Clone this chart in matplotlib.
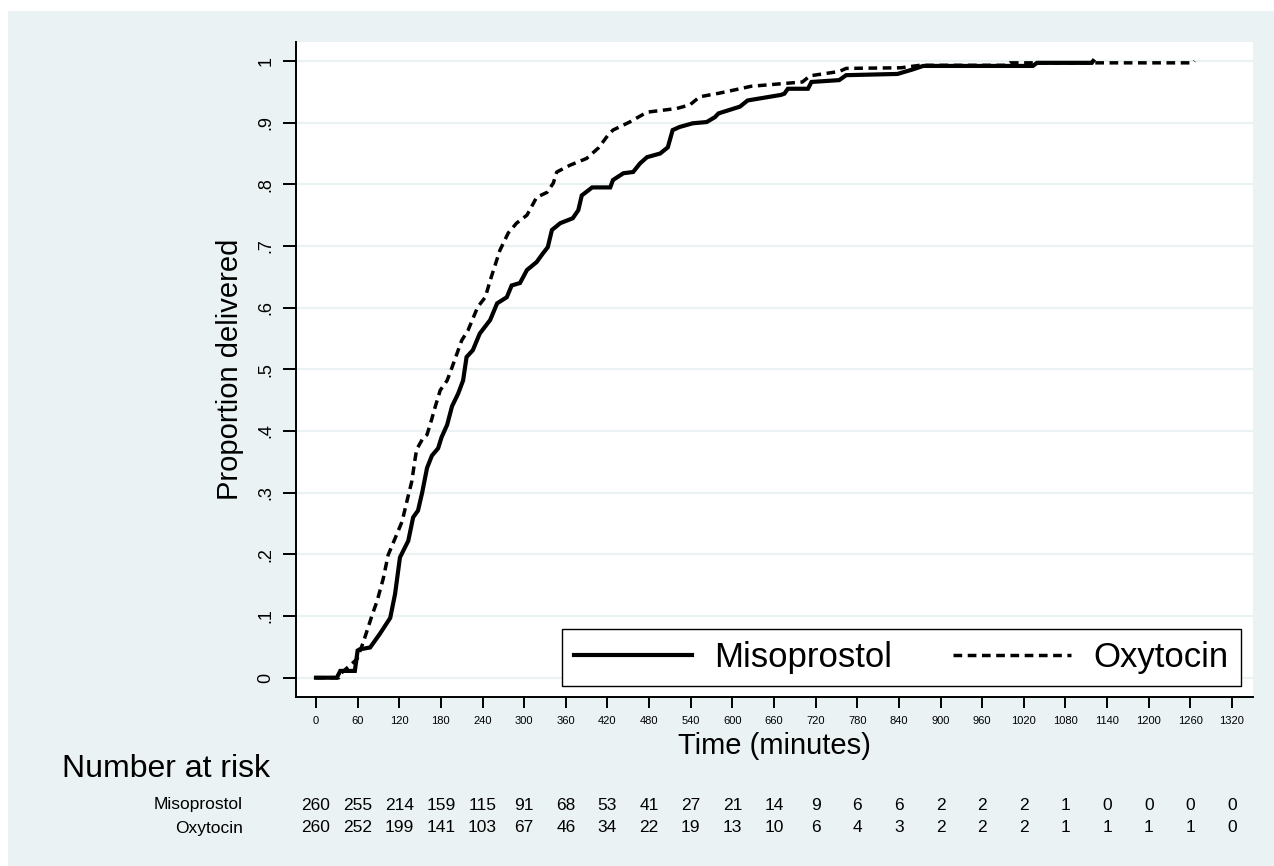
import numpy as np
import matplotlib.pyplot as plt
from matplotlib.patches import Rectangle
import matplotlib.transforms as mtransforms

plt.rcParams['font.family'] = ['Liberation Sans', 'DejaVu Sans']

# Kaplan-Meier failure estimates (time in minutes, proportion delivered)
miso_t = [0, 30, 35, 56, 60, 63, 78, 92, 107, 114, 121, 133, 140, 147, 153, 160, 167, 176, 181,
          189, 196, 205, 212, 217, 226, 236, 251, 261, 275, 282, 294, 304, 318, 327, 334, 340,
          352, 370, 378, 383, 398, 424, 428, 443, 457, 467, 477, 496, 507, 514, 524, 543, 563,
          575, 580, 611, 622, 670, 675, 680, 709, 714, 754, 764, 838, 859, 875, 1033, 1039,
          1118, 1120]
miso_p = [0, 0, 0.011, 0.011, 0.044, 0.046, 0.049, 0.071, 0.097, 0.136, 0.195, 0.222, 0.26,
          0.271, 0.30, 0.34, 0.36, 0.372, 0.39, 0.41, 0.44, 0.461, 0.482, 0.52, 0.531, 0.558,
          0.58, 0.607, 0.617, 0.636, 0.64, 0.661, 0.674, 0.688, 0.698, 0.726, 0.737, 0.745,
          0.758, 0.782, 0.795, 0.795, 0.807, 0.818, 0.82, 0.834, 0.844, 0.85, 0.86, 0.888, 0.893,
          0.899, 0.901, 0.909, 0.915, 0.926, 0.936, 0.945, 0.947, 0.955, 0.955, 0.966, 0.969,
          0.977, 0.979, 0.986, 0.992, 0.992, 0.997, 0.997, 1.0]

oxy_t = [0, 33, 35, 45, 59, 68, 75, 81, 88, 97, 104, 114, 124, 131, 138, 143, 145, 154, 160,
         167, 172, 179, 189, 196, 210, 219, 233, 244, 251, 265, 277, 289, 304, 318, 333, 342,
         347, 366, 390, 398, 407, 421, 428, 452, 477, 520, 539, 553, 582, 611, 627, 701, 712,
         754, 764, 843, 870, 995, 1000, 1264, 1266]
oxy_p = [0, 0, 0.006, 0.016, 0.030, 0.057, 0.081, 0.102, 0.124, 0.161, 0.199, 0.226, 0.253,
         0.286, 0.318, 0.356, 0.37, 0.388, 0.394, 0.42, 0.44, 0.466, 0.482, 0.503, 0.547, 0.563,
         0.601, 0.617, 0.644, 0.693, 0.721, 0.737, 0.75, 0.779, 0.787, 0.802, 0.82, 0.831,
         0.842, 0.85, 0.859, 0.88, 0.888, 0.901, 0.917, 0.923, 0.929, 0.942, 0.948, 0.955,
         0.959, 0.966, 0.976, 0.983, 0.988, 0.989, 0.993, 0.993, 0.997, 0.997, 1.0]

groups = ['Misoprostol', 'Oxytocin']
risk_times = list(range(0, 1321, 60))
miso_risk = [260, 255, 214, 159, 115, 91, 68, 53, 41, 27, 21, 14, 9, 6, 6, 2, 2, 2, 1, 0, 0, 0, 0]
oxy_risk = [260, 252, 199, 141, 103, 67, 46, 34, 22, 19, 13, 10, 6, 4, 3, 2, 2, 2, 1, 1, 1, 1, 0]
yticks = [0, .1, .2, .3, .4, .5, .6, .7, .8, .9, 1]
ytick_labels = ['0', '.1', '.2', '.3', '.4', '.5', '.6', '.7', '.8', '.9', '1']

bg = '#eaf2f3'
W, H = 1274, 866
fig = plt.figure(figsize=(W / 100, H / 100), dpi=100, facecolor='white')
fig.patches.append(Rectangle((8 / W, 0), 1 - 8 / W, 1 - 11 / H, transform=fig.transFigure,
                             facecolor=bg, edgecolor='none', zorder=-10))

ax = fig.add_axes([296 / W, 1 - 697 / H, (1253 - 296) / W, (697 - 42) / H])
ax.set_facecolor('white')
ax.set_xlim(-28.8, 1350.3)
ax.set_ylim(-0.0313, 1.0308)

ax.plot(miso_t, miso_p, color='black', lw=3.0, solid_joinstyle='miter', label=groups[0])
ax.plot(oxy_t, oxy_p, color='black', lw=2.5, linestyle=(0, (2.5, 1.6)), label=groups[1])

ax.set_yticks(yticks)
ax.set_yticklabels(ytick_labels, rotation=90, va='center')
ax.set_xticks(risk_times)
ax.grid(axis='y', color=bg, lw=1.6)
ax.set_axisbelow(True)
for s in ['top', 'right']:
    ax.spines[s].set_visible(False)
for s in ['left', 'bottom']:
    ax.spines[s].set_linewidth(1.4)
ax.tick_params(axis='y', length=9.5, width=1.4, pad=6, labelsize=13)
ax.tick_params(axis='x', length=8, width=1.4, pad=6, labelsize=8)

ax.set_ylabel('Proportion delivered', fontsize=21, labelpad=10)
ax.set_xlabel('Time (minutes)', fontsize=21, labelpad=4)

leg = ax.legend(ncol=2, loc='lower right', bbox_to_anchor=(0.9875, 0.0168),
                fontsize=25, handlelength=3.4, handletextpad=0.65, columnspacing=1.75,
                borderpad=0.35, frameon=True, fancybox=False, framealpha=1,
                edgecolor='black', borderaxespad=0)
leg.get_frame().set_linewidth(1.0)

# number at risk table
fig.text(62 / W, 1 - 769 / H, 'Number at risk', fontsize=23, ha='left', va='center')
trans = mtransforms.blended_transform_factory(ax.transData, fig.transFigure)
for name, counts, ypix in [(groups[0], miso_risk, 805), (groups[1], oxy_risk, 828)]:
    fig.text(243 / W, 1 - ypix / H, name, fontsize=12.5, ha='right', va='center')
    for t, n in zip(risk_times, counts):
        ax.text(t, 1 - ypix / H, str(n), transform=trans, fontsize=12.5,
                ha='center', va='center')

fig.savefig('out.png', dpi=100, facecolor=fig.get_facecolor())
